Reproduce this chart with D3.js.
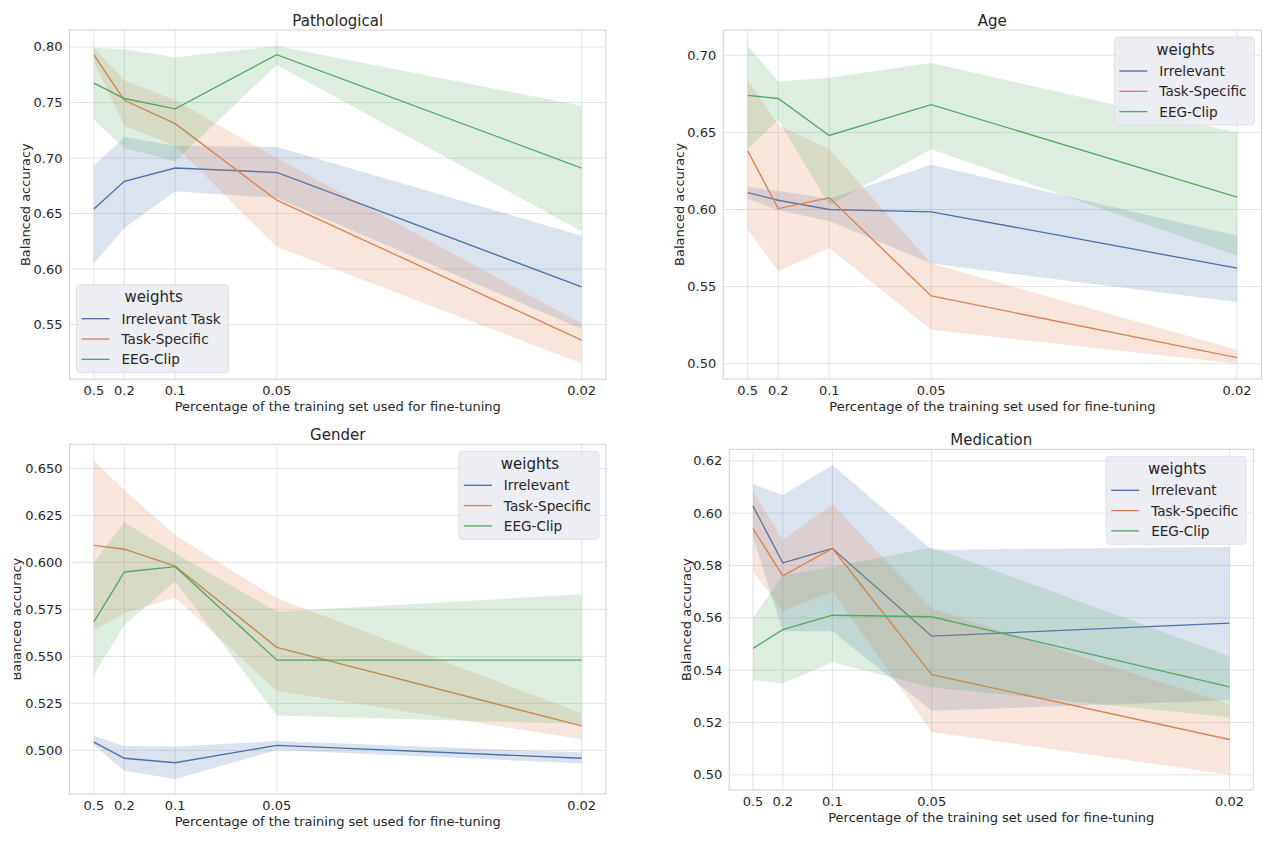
<!DOCTYPE html>
<html>
<head>
<meta charset="utf-8">
<script src="https://cdn.jsdelivr.net/npm/d3@7"></script>
<style>
  html, body { margin: 0; padding: 0; background: #ffffff; }
  svg { display: block; font-family: "DejaVu Sans", sans-serif; }
</style>
</head>
<body>
<svg id="chart" width="1277" height="853"></svg>
<script>
// ---------------- DATA ----------------
const fractions = [0.5, 0.2, 0.1, 0.05, 0.02];
const xTickLabels = ["0.5", "0.2", "0.1", "0.05", "0.02"];
const seriesNames = ["Irrelevant", "Task-Specific", "EEG-Clip"];
const seriesNamesPatho = ["Irrelevant Task", "Task-Specific", "EEG-Clip"];
const xAxisTitle = "Percentage of the training set used for fine-tuning";
const yAxisTitle = "Balanced accuracy";
const legendTitle = "weights";

// Pathological
const pathoIrrMean = [0.654, 0.679, 0.691, 0.687, 0.584];
const pathoIrrLo   = [0.605, 0.637, 0.670, 0.664, 0.546];
const pathoIrrHi   = [0.693, 0.719, 0.711, 0.710, 0.630];
const pathoTsMean  = [0.793, 0.752, 0.731, 0.662, 0.536];
const pathoTsLo    = [0.787, 0.729, 0.711, 0.620, 0.515];
const pathoTsHi    = [0.799, 0.770, 0.752, 0.700, 0.551];
const pathoEegMean = [0.7675, 0.7536, 0.7443, 0.7931, 0.691];
const pathoEegLo   = [0.7346, 0.709, 0.697, 0.7837, 0.634];
const pathoEegHi   = [0.7994, 0.798, 0.7907, 0.801, 0.747];
const pathoYTicks  = [0.55, 0.60, 0.65, 0.70, 0.75, 0.80];

// Age
const ageIrrMean = [0.611, 0.606, 0.600, 0.5985, 0.562];
const ageIrrLo   = [0.607, 0.5996, 0.5926, 0.565, 0.540];
const ageIrrHi   = [0.6147, 0.612, 0.607, 0.629, 0.583];
const ageTsMean  = [0.638, 0.6006, 0.6076, 0.544, 0.504];
const ageTsLo    = [0.587, 0.560, 0.575, 0.522, 0.500];
const ageTsHi    = [0.684, 0.655, 0.639, 0.565, 0.509];
const ageEegMean = [0.674, 0.672, 0.648, 0.668, 0.608];
const ageEegLo   = [0.639, 0.658, 0.603, 0.639, 0.570];
const ageEegHi   = [0.706, 0.683, 0.6855, 0.695, 0.650];
const ageYTicks  = [0.50, 0.55, 0.60, 0.65, 0.70];

// Gender
const genIrrMean = [0.5044, 0.4958, 0.4934, 0.5027, 0.4958];
const genIrrLo   = [0.5028, 0.4892, 0.4848, 0.5002, 0.4930];
const genIrrHi   = [0.5076, 0.5023, 0.5020, 0.5050, 0.4989];
const genTsMean  = [0.609, 0.607, 0.598, 0.5548, 0.513];
const genTsLo    = [0.5637, 0.5729, 0.5812, 0.5317, 0.5059];
const genTsHi    = [0.654, 0.6385, 0.6144, 0.5809, 0.5197];
const genEegMean = [0.5684, 0.5949, 0.5977, 0.548, 0.548];
const genEegLo   = [0.540, 0.5667, 0.590, 0.5185, 0.514];
const genEegHi   = [0.600, 0.6213, 0.6048, 0.5738, 0.583];
const genYTicks  = [0.500, 0.525, 0.550, 0.575, 0.600, 0.625, 0.650];

// Medication
const medIrrMean = [0.6027, 0.581, 0.5865, 0.553, 0.558];
const medIrrLo   = [0.591, 0.5549, 0.5549, 0.5245, 0.5285];
const medIrrHi   = [0.6111, 0.6069, 0.6183, 0.586, 0.5871];
const medTsMean  = [0.5941, 0.576, 0.5865, 0.5383, 0.5135];
const medTsLo    = [0.5776, 0.5627, 0.570, 0.5164, 0.500];
const medTsHi    = [0.6082, 0.5897, 0.6033, 0.5636, 0.527];
const medEegMean = [0.5483, 0.5555, 0.561, 0.5604, 0.5336];
const medEegLo   = [0.5362, 0.5349, 0.543, 0.5334, 0.522];
const medEegHi   = [0.560, 0.5763, 0.5795, 0.5869, 0.5453];
const medYTicks  = [0.50, 0.52, 0.54, 0.56, 0.58, 0.60, 0.62];

// ---------------- STYLE / LAYOUT ----------------
const colors = ["#4c72b0", "#dd8452", "#55a868"];
const textColor = "#262626";
const gridColor = "#e3e3e3";
const spineColor = "#d4d4d4";

const panels = [
  { title: "Pathological", names: seriesNamesPatho, legend: "lower left",
    box: {l: 69.5, r: 606, t: 30, b: 379.3}, ydom: [0.5007, 0.8153],
    yTicks: pathoYTicks, yFmt: ".2f", ylabelX: 25, clipYLabel: null,
    mean: [pathoIrrMean, pathoTsMean, pathoEegMean],
    lo: [pathoIrrLo, pathoTsLo, pathoEegLo],
    hi: [pathoIrrHi, pathoTsHi, pathoEegHi] },
  { title: "Age", names: seriesNames, legend: "upper right",
    box: {l: 723.2, r: 1261.5, t: 30, b: 379}, ydom: [0.4901, 0.7164],
    yTicks: ageYTicks, yFmt: ".2f", ylabelX: 679, clipYLabel: null,
    mean: [ageIrrMean, ageTsMean, ageEegMean],
    lo: [ageIrrLo, ageTsLo, ageEegLo],
    hi: [ageIrrHi, ageTsHi, ageEegHi] },
  { title: "Gender", names: seriesNames, legend: "upper right",
    box: {l: 69.5, r: 606, t: 444.3, b: 794}, ydom: [0.4768, 0.6628],
    yTicks: genYTicks, yFmt: ".3f", ylabelX: 16.5, clipYLabel: 14,
    mean: [genIrrMean, genTsMean, genEegMean],
    lo: [genIrrLo, genTsLo, genEegLo],
    hi: [genIrrHi, genTsHi, genEegHi] },
  { title: "Medication", names: seriesNames, legend: "upper right",
    box: {l: 729.2, r: 1253.3, t: 449.3, b: 790}, ydom: [0.4942, 0.6244],
    yTicks: medYTicks, yFmt: ".2f", ylabelX: 686, clipYLabel: null,
    mean: [medIrrMean, medTsMean, medEegMean],
    lo: [medIrrLo, medTsLo, medEegLo],
    hi: [medIrrHi, medTsHi, medEegHi] }
];

const svg = d3.select("#chart");
const inv = fractions.map(f => 1 / f);
const invMin = d3.min(inv), invMax = d3.max(inv);
const pad = (invMax - invMin) * 0.05;

panels.forEach((p, pi) => {
  const x = d3.scaleLinear().domain([invMin - pad, invMax + pad]).range([p.box.l, p.box.r]);
  const y = d3.scaleLinear().domain(p.ydom).range([p.box.b, p.box.t]);
  const g = svg.append("g");

  // grid
  g.append("g").selectAll("line").data(p.yTicks).join("line")
    .attr("x1", p.box.l).attr("x2", p.box.r)
    .attr("y1", d => y(d)).attr("y2", d => y(d))
    .attr("stroke", gridColor).attr("stroke-width", 1);
  g.append("g").selectAll("line").data(inv).join("line")
    .attr("y1", p.box.t).attr("y2", p.box.b)
    .attr("x1", d => x(d)).attr("x2", d => x(d))
    .attr("stroke", gridColor).attr("stroke-width", 1);

  // series
  const clipId = "clip" + pi;
  svg.append("clipPath").attr("id", clipId).append("rect")
    .attr("x", p.box.l).attr("y", p.box.t)
    .attr("width", p.box.r - p.box.l).attr("height", p.box.b - p.box.t);
  const plot = g.append("g").attr("clip-path", `url(#${clipId})`);
  p.mean.forEach((m, si) => {
    const pts = inv.map((v, i) => ({x: v, m: m[i], lo: p.lo[si][i], hi: p.hi[si][i]}));
    plot.append("path").datum(pts)
      .attr("fill", "none").attr("stroke", colors[si]).attr("stroke-width", 1.35)
      .attr("d", d3.line().x(d => x(d.x)).y(d => y(d.m)));
    plot.append("path").datum(pts)
      .attr("fill", colors[si]).attr("fill-opacity", 0.2).attr("stroke", "none")
      .attr("d", d3.area().x(d => x(d.x)).y0(d => y(d.lo)).y1(d => y(d.hi)));
  });

  // spines
  g.append("rect").attr("x", p.box.l).attr("y", p.box.t)
    .attr("width", p.box.r - p.box.l).attr("height", p.box.b - p.box.t)
    .attr("fill", "none").attr("stroke", spineColor).attr("stroke-width", 1.1);

  // y tick labels
  const fmt = d3.format(p.yFmt);
  g.append("g").selectAll("text").data(p.yTicks).join("text")
    .attr("x", p.box.l - 7).attr("y", d => y(d))
    .attr("text-anchor", "end").attr("dominant-baseline", "central")
    .attr("font-size", 13).attr("fill", textColor)
    .text(d => fmt(d));

  // x tick labels
  g.append("g").selectAll("text").data(inv).join("text")
    .attr("x", d => x(d)).attr("y", p.box.b + 11)
    .attr("text-anchor", "middle").attr("dominant-baseline", "central")
    .attr("font-size", 13).attr("fill", textColor)
    .text((d, i) => xTickLabels[i]);

  // x axis title
  g.append("text").attr("x", (p.box.l + p.box.r) / 2).attr("y", p.box.b + 27.5)
    .attr("text-anchor", "middle").attr("dominant-baseline", "central")
    .attr("font-size", 13).attr("fill", textColor).text(xAxisTitle);

  // y axis title
  const yc = (p.box.t + p.box.b) / 2;
  let ylParent = g;
  if (p.clipYLabel !== null) {
    const cid = "ylclip" + pi;
    svg.append("clipPath").attr("id", cid).append("rect")
      .attr("x", p.clipYLabel).attr("y", p.box.t).attr("width", 60).attr("height", p.box.b - p.box.t);
    ylParent = g.append("g").attr("clip-path", `url(#${cid})`);
  }
  ylParent.append("text")
    .attr("transform", `translate(${p.ylabelX},${yc}) rotate(-90)`)
    .attr("text-anchor", "middle").attr("dominant-baseline", "central")
    .attr("font-size", 13).attr("fill", textColor).text(yAxisTitle);

  // title
  g.append("text").attr("x", (p.box.l + p.box.r) / 2).attr("y", p.box.t - 9)
    .attr("text-anchor", "middle").attr("dominant-baseline", "central")
    .attr("font-size", 15).attr("fill", textColor).text(p.title);

  // legend
  const lg = g.append("g");
  const bg = lg.append("rect");
  const items = lg.append("g");
  const tmp = [];
  p.names.forEach((n, si) => {
    tmp.push(items.append("text").attr("font-size", 13.6).attr("fill", textColor)
      .attr("dominant-baseline", "central").text(n));
  });
  const maxW = d3.max(tmp, t => t.node().getComputedTextLength());
  const lw = 45 + maxW + 8, lh = 88;
  let lx, ly;
  if (p.legend === "lower left") { lx = p.box.l + 7; ly = p.box.b - 6.6 - lh; }
  else { lx = p.box.r - 7 - lw; ly = p.box.t + 7; }
  bg.attr("x", lx).attr("y", ly).attr("width", lw).attr("height", lh)
    .attr("rx", 3.5).attr("fill", "#eaeaf2").attr("fill-opacity", 0.85)
    .attr("stroke", "#dcdce6").attr("stroke-width", 0.8);
  lg.append("text").attr("x", lx + lw / 2 + 1).attr("y", ly + 12.7)
    .attr("text-anchor", "middle").attr("dominant-baseline", "central")
    .attr("font-size", 15).attr("fill", textColor).text(legendTitle);
  const rowOff = [34, 54.3, 74.6];
  tmp.forEach((t, si) => {
    t.attr("x", lx + 45).attr("y", ly + rowOff[si]);
    lg.append("line").attr("x1", lx + 5).attr("x2", lx + 33)
      .attr("y1", ly + rowOff[si]).attr("y2", ly + rowOff[si])
      .attr("stroke", colors[si]).attr("stroke-width", 1.35);
  });
});
</script>
</body>
</html>
